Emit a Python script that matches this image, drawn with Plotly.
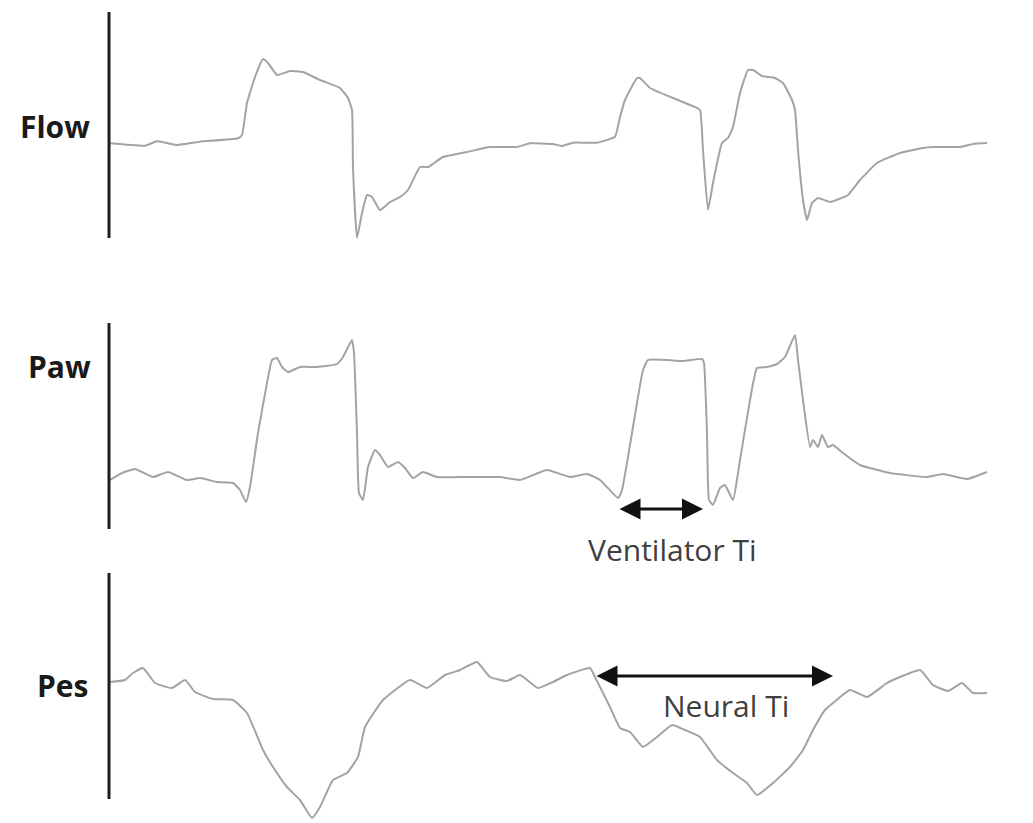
import plotly.graph_objects as go

# Time base (s) and recorded waveforms
flow_t = [0.00, 0.35, 0.47, 0.67, 0.90, 1.28, 1.32, 1.37, 1.45, 1.53, 1.58, 1.67, 1.80, 1.93,
          2.10, 2.30, 2.38, 2.42, 2.43, 2.47, 2.52, 2.57, 2.62, 2.70, 2.80, 2.90, 2.98, 3.10,
          3.18, 3.33, 3.57, 3.80, 4.07, 4.20, 4.43, 4.52, 4.63, 4.87, 5.05, 5.10, 5.15, 5.27,
          5.30, 5.40, 5.63, 5.85, 5.90, 5.93, 5.98, 6.03, 6.12, 6.18, 6.23, 6.30, 6.38, 6.43,
          6.52, 6.65, 6.73, 6.82, 6.85, 6.88, 6.93, 6.97, 7.02, 7.08, 7.20, 7.38, 7.50, 7.67,
          7.90, 8.13, 8.23, 8.50, 8.63, 8.77]
flow_v = [0.017, -0.007, 0.037, 0.00, 0.033, 0.067, 0.10, 0.42, 0.68, 0.86, 0.82, 0.70, 0.74, 0.73,
          0.65, 0.57, 0.47, 0.35, -0.22, -0.93, -0.68, -0.50, -0.52, -0.65, -0.57, -0.52, -0.45, -0.22,
          -0.22, -0.12, -0.07, -0.02, -0.02, 0.017, 0.01, -0.01, 0.023, 0.023, 0.083, 0.28, 0.45, 0.67,
          0.67, 0.57, 0.47, 0.38, 0.35, -0.05, -0.65, -0.38, 0.02, 0.07, 0.18, 0.52, 0.75, 0.75,
          0.69, 0.67, 0.62, 0.45, 0.35, -0.05, -0.55, -0.75, -0.58, -0.53, -0.57, -0.50, -0.35, -0.18,
          -0.08, -0.03, -0.02, -0.02, 0.01, 0.02]

paw_t = [0.00, 0.12, 0.25, 0.43, 0.58, 0.77, 0.90, 1.07, 1.23, 1.30, 1.36, 1.40, 1.48, 1.57,
         1.62, 1.67, 1.72, 1.78, 1.90, 2.07, 2.27, 2.33, 2.42, 2.44, 2.47, 2.49, 2.53, 2.58,
         2.65, 2.70, 2.78, 2.88, 2.95, 3.03, 3.13, 3.27, 3.57, 3.90, 4.10, 4.37, 4.60, 4.77,
         4.90, 5.08, 5.12, 5.23, 5.33, 5.38, 5.57, 5.73, 5.92, 5.94, 5.97, 5.99, 6.03, 6.10,
         6.15, 6.23, 6.30, 6.40, 6.47, 6.57, 6.67, 6.75, 6.85, 6.88, 6.93, 7.00, 7.03, 7.08,
         7.12, 7.18, 7.23, 7.33, 7.50, 7.80, 8.17, 8.33, 8.57, 8.77]
paw_v = [4.8, 5.5, 5.9, 5.1, 5.6, 4.8, 5.0, 4.6, 4.5, 3.8, 2.6, 4.1, 9.5, 14.5,
         16.8, 17.0, 16.1, 15.6, 16.1, 16.1, 16.4, 17.1, 18.8, 17.5, 9.5, 3.5, 2.8, 6.1,
         7.8, 7.3, 6.1, 6.6, 6.0, 5.0, 5.6, 5.1, 5.1, 5.1, 4.8, 5.8, 5.1, 5.4,
         4.8, 3.0, 3.8, 10.1, 15.8, 16.8, 16.8, 16.7, 16.9, 16.5, 9.5, 2.8, 2.3, 4.0,
         4.3, 2.8, 6.8, 12.8, 16.0, 16.1, 16.4, 17.1, 19.3, 16.8, 12.8, 8.1, 8.8, 8.1,
         9.3, 8.1, 8.3, 7.5, 6.3, 5.5, 5.1, 5.4, 4.9, 5.6]

pes_t = [0.00, 0.15, 0.23, 0.33, 0.45, 0.62, 0.75, 0.85, 1.03, 1.23, 1.37, 1.53, 1.63, 1.77,
         1.90, 2.02, 2.10, 2.23, 2.37, 2.48, 2.55, 2.73, 3.00, 3.17, 3.35, 3.50, 3.67, 3.80,
         3.97, 4.10, 4.28, 4.43, 4.57, 4.80, 4.85, 5.00, 5.10, 5.20, 5.33, 5.47, 5.62, 5.75,
         5.90, 6.07, 6.23, 6.37, 6.47, 6.63, 6.80, 6.93, 7.03, 7.15, 7.23, 7.40, 7.57, 7.77,
         7.90, 8.10, 8.23, 8.38, 8.52, 8.63, 8.77]
pes_v = [-0.2, 0.0, 0.7, 1.2, -0.3, -0.8, 0.0, -1.2, -1.9, -2.0, -3.3, -7.0, -8.7, -10.7,
         -12.0, -13.8, -12.7, -10.0, -9.3, -7.7, -4.7, -2.0, 0.0, -0.8, 0.5, 1.0, 1.8, 0.3,
         -0.1, 0.5, -0.8, -0.2, 0.5, 1.2, 0.3, -2.7, -4.8, -5.2, -6.7, -5.7, -4.5, -5.0,
         -5.7, -8.0, -9.3, -10.3, -11.5, -10.3, -8.7, -7.0, -5.0, -3.0, -2.3, -1.0, -1.7, -0.3,
         0.3, 1.0, -0.5, -1.1, -0.3, -1.3, -1.3]

# Timing intervals marked on the traces (s)
vent_ti = [5.08, 5.93]
neural_ti = [4.85, 7.23]

W, H = 1033, 823
TRACE = "#a3a3a3"
AXIS = "#1e1e1e"


def panel(top_px, bottom_px, base_px, base_val, per_px):
    """Domain and range for one stacked panel with a fixed units-per-pixel scale."""
    dom = [1 - bottom_px / H, 1 - top_px / H]
    rng = [base_val + (base_px - bottom_px) * per_px, base_val + (base_px - top_px) * per_px]
    return dom, rng


flow_dom, flow_rng = panel(0, 262, 145, 0.0, 0.01)
paw_dom, paw_rng = panel(262, 545, 478, 5.0, 0.1)
pes_dom, pes_rng = panel(545, 823, 680, 0.0, 0.1)

fig = go.Figure()
line = dict(color=TRACE, width=2, shape="spline", smoothing=0.4)
fig.add_trace(go.Scatter(x=flow_t, y=flow_v, mode="lines", line=line, xaxis="x", yaxis="y"))
fig.add_trace(go.Scatter(x=paw_t, y=paw_v, mode="lines", line=line, xaxis="x", yaxis="y2"))
fig.add_trace(go.Scatter(x=pes_t, y=pes_v, mode="lines", line=line, xaxis="x", yaxis="y3"))

hidden = dict(showgrid=False, zeroline=False, showticklabels=False, ticks="", showline=False)
fig.update_layout(
    width=W, height=H,
    margin=dict(l=0, r=0, t=0, b=0),
    paper_bgcolor="white", plot_bgcolor="white",
    showlegend=False,
    xaxis=dict(domain=[0, 1], range=[-1.10, 9.23], anchor="y3", **hidden),
    yaxis=dict(domain=flow_dom, range=flow_rng, anchor="x", **hidden),
    yaxis2=dict(domain=paw_dom, range=paw_rng, anchor="x", **hidden),
    yaxis3=dict(domain=pes_dom, range=pes_rng, anchor="x", **hidden),
)

# Vertical axis bars for each channel
for yref, y0, y1 in [("y", -0.93, 1.33), ("y2", -0.1, 20.5), ("y3", -11.9, 10.7)]:
    fig.add_shape(type="line", xref="x", yref=yref, x0=-0.01, x1=-0.01, y0=y0, y1=y1,
                  line=dict(color=AXIS, width=3))

label_font = dict(family="Open Sans", size=30, color="#1a1a1a")
for text, ypx, xpx in [("<b>Flow</b>", 127, 92), ("<b>Paw</b>", 366, 93), ("<b>Pes</b>", 685, 90)]:
    fig.add_annotation(text=text, xref="paper", yref="paper", x=xpx / W, y=1 - ypx / H,
                       xanchor="right", yanchor="middle", showarrow=False, font=label_font)

arrow = dict(text="", showarrow=True, arrowhead=2, startarrowhead=2, arrowside="end+start",
             arrowsize=1.4, startarrowsize=1.4, arrowwidth=3, arrowcolor="#111111", standoff=0,
             startstandoff=0)
fig.add_annotation(x=vent_ti[1], y=1.9, ax=vent_ti[0], ay=1.9, xref="x", yref="y2",
                   axref="x", ayref="y2", **arrow)
fig.add_annotation(x=neural_ti[1], y=0.4, ax=neural_ti[0], ay=0.4, xref="x", yref="y3",
                   axref="x", ayref="y3", **arrow)

note_font = dict(family="Open Sans", size=30, color="#3f3f3f")
fig.add_annotation(text="Ventilator Ti", xref="x", yref="paper", x=5.62, y=1 - 549 / H,
                   xanchor="center", yanchor="middle", showarrow=False, font=note_font)
fig.add_annotation(text="Neural Ti", xref="x", yref="y3", x=6.16, y=-2.5,
                   xanchor="center", yanchor="middle", showarrow=False, font=note_font)

fig.write_html("out.html")
